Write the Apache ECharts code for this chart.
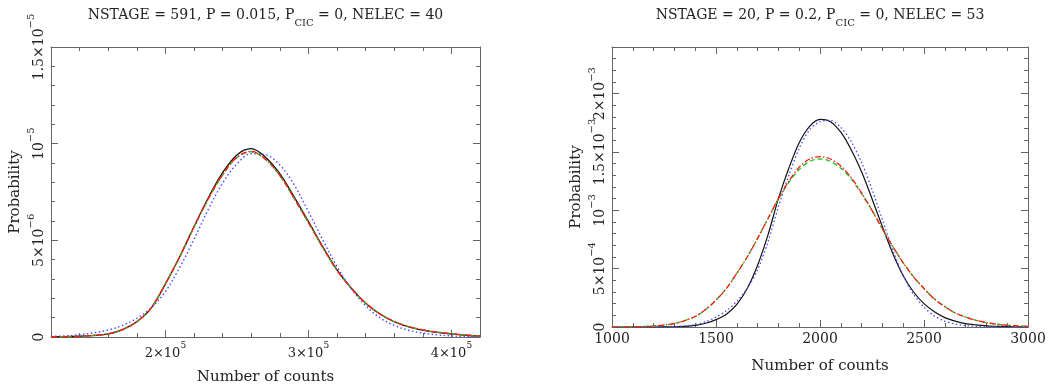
<!DOCTYPE html>
<html><head><meta charset="utf-8">
<script src="https://cdn.jsdelivr.net/npm/echarts@6/dist/echarts.min.js"></script>
<style>html,body{margin:0;padding:0;background:#fff}#c{width:1049px;height:392px}</style>
</head><body><div id="c"></div><script>
// ---------- data ----------
const leftTitle = 'NSTAGE = 591, P = 0.015, P_CIC = 0, NELEC = 40';
const rightTitle = 'NSTAGE = 20, P = 0.2, P_CIC = 0, NELEC = 53';
const xName = 'Number of counts';
const yName = 'Probability';

const leftXTicks = [200000, 300000, 400000];
const leftXLabels = ['2×10^5', '3×10^5', '4×10^5'];
const leftYTicks = [0, 5e-6, 1e-5, 1.5e-5];
const leftYLabels = ['0', '5×10^−6', '10^−5', '1.5×10^−5'];
const rightXTicks = [1000, 1500, 2000, 2500, 3000];
const rightXLabels = ['1000', '1500', '2000', '2500', '3000'];
const rightYTicks = [0, 5e-4, 1e-3, 1.5e-3, 2e-3];
const rightYLabels = ['0', '5×10^−4', '10^−3', '1.5×10^−3', '2×10^−3'];

// left panel: counts, probability in units of 1e-6
const leftX = [120000,130000,140000,150000,160000,170000,180000,190000,200000,210000,220000,
  230000,240000,250000,260000,270000,280000,290000,300000,310000,320000,330000,340000,350000,
  360000,370000,380000,390000,400000,410000,420000];
const leftBlack = [0.01,0.02,0.04,0.08,0.16,0.38,0.79,1.49,2.75,4.15,5.7,7.2,8.5,9.42,9.74,9.3,
  8.45,7.25,5.98,4.68,3.47,2.52,1.75,1.19,0.79,0.53,0.36,0.24,0.16,0.09,0.05];
const leftRed = [0.01,0.02,0.04,0.08,0.16,0.38,0.79,1.49,2.75,4.15,5.7,7.15,8.4,9.3,9.6,9.2,
  8.36,7.18,5.92,4.64,3.45,2.52,1.76,1.2,0.8,0.54,0.37,0.25,0.17,0.1,0.05];
const leftGreen = [0.01,0.02,0.04,0.08,0.16,0.38,0.79,1.49,2.75,4.15,5.68,7.13,8.38,9.28,9.58,9.18,
  8.35,7.17,5.92,4.64,3.45,2.52,1.76,1.2,0.8,0.54,0.37,0.25,0.17,0.1,0.05];
const leftBlue = [0.03,0.06,0.12,0.22,0.36,0.6,0.97,1.5,2.35,3.6,5.05,6.6,7.96,8.95,9.48,9.43,
  8.9,7.88,6.49,5.03,3.64,2.5,1.62,1.0,0.6,0.35,0.2,0.11,0.06,0.03,0.01];

// right panel: counts, probability in units of 1e-4
const rightX = [1000,1050,1100,1150,1200,1250,1300,1350,1400,1450,1500,1550,1600,1650,1700,1750,
  1800,1850,1900,1950,2000,2050,2100,2150,2200,2250,2300,2350,2400,2450,2500,2550,2600,2650,
  2700,2750,2800,2850,2900,2950,3000];
const rightBlack = [0,0,0,0,0,0.01,0.02,0.06,0.14,0.32,0.63,1.1,1.94,3.3,5.3,7.9,
  11.0,13.6,15.8,17.2,17.8,17.6,16.7,15.2,13.3,11.0,8.6,6.3,4.4,3.0,2.0,1.3,0.8,0.5,
  0.29,0.18,0.1,0.06,0.03,0.02,0.01];
const rightBlue = [0,0,0,0,0,0.01,0.03,0.09,0.2,0.45,0.85,1.4,2.2,3.3,4.9,7.3,
  10.3,13.0,15.3,16.9,17.6,17.7,17.1,15.9,14.1,11.8,9.2,6.6,4.4,2.8,1.7,0.95,0.5,0.25,
  0.12,0.06,0.03,0.02,0.01,0,0];
const rightRed = [0,0.01,0.02,0.04,0.08,0.16,0.3,0.55,0.9,1.5,2.3,3.3,4.6,6.0,7.6,9.3,
  11.0,12.5,13.7,14.4,14.6,14.4,13.8,12.8,11.5,10.0,8.4,6.9,5.5,4.3,3.3,2.4,1.75,1.2,
  0.85,0.57,0.38,0.24,0.15,0.09,0.06];
const rightGreen = [0,0.01,0.02,0.04,0.08,0.16,0.3,0.55,0.9,1.5,2.3,3.3,4.6,6.0,7.6,9.3,
  10.95,12.4,13.5,14.2,14.4,14.2,13.6,12.7,11.4,10.0,8.4,6.9,5.5,4.3,3.3,2.4,1.75,1.2,
  0.85,0.57,0.38,0.24,0.15,0.09,0.06];

// ---------- helpers ----------
function rich(s) {
  return s.replace(/([^\^_]+)|\^([^\s,]+)|_([A-Z]+)/g, (m, a, b, c) =>
    a ? '{b|' + a + '}' : b ? '{sup|' + b + '}' : '{sub|' + c + '}');
}
function labelFor(ticks, labels) {
  return v => {
    for (let i = 0; i < ticks.length; i++) {
      if (Math.abs(v - ticks[i]) <= Math.abs(ticks[1] - ticks[0]) * 1e-6) return rich(labels[i]);
    }
    return '';
  };
}
const FONT = 'DejaVu Serif';
const TXT = '#222';
const FRAME = '#666';
const labRich = {
  b: {fontFamily: FONT, fontSize: 14, color: TXT, lineHeight: 20, verticalAlign: 'bottom'},
  sup: {fontFamily: FONT, fontSize: 10, color: TXT, verticalAlign: 'top'}
};
const xLabRich = {
  b: {fontFamily: FONT, fontSize: 13, color: TXT, lineHeight: 19, verticalAlign: 'bottom'},
  sup: {fontFamily: FONT, fontSize: 9, color: TXT, verticalAlign: 'top'}
};
const titleRich = {
  b: {fontFamily: FONT, fontSize: 14, color: TXT, lineHeight: 20, verticalAlign: 'top'},
  sub: {fontFamily: FONT, fontSize: 10, color: TXT, verticalAlign: 'bottom'}
};
function pairs(xs, ys, scale) { return xs.map((x, i) => [x, ys[i] * scale]); }

const line = {show: true, onZero: false, lineStyle: {color: FRAME, width: 1}};
const noLine = {show: false, onZero: false};
function majorTick(len, custom) {
  const t = {show: true, inside: true, length: len, lineStyle: {color: FRAME, width: 1}};
  if (custom) t.customValues = custom;
  return t;
}
const minorTick = {show: true, splitNumber: 5, length: 4, lineStyle: {color: FRAME, width: 1}};
const nameStyle = {fontFamily: FONT, fontSize: 15, color: TXT};

const grids = [
  {left: 51, top: 47, width: 429, height: 290},
  {left: 612, top: 47, width: 416, height: 280}
];

const xAxis = [
  // left panel
  {gridIndex: 0, type: 'value', position: 'bottom', min: 120000, max: 420000,
   axisLine: line, axisTick: majorTick(7, leftXTicks), splitLine: {show: false},
   axisLabel: {customValues: leftXTicks, formatter: labelFor(leftXTicks, leftXLabels), rich: xLabRich, margin: 4},
   name: xName, nameLocation: 'middle', nameGap: 33, nameTextStyle: nameStyle},
  {gridIndex: 0, type: 'value', position: 'bottom', min: 120000, max: 420000, interval: 20000,
   axisLine: noLine, axisTick: majorTick(4), axisLabel: {show: false}, splitLine: {show: false}},
  {gridIndex: 0, type: 'value', position: 'top', min: 120000, max: 420000,
   axisLine: line, axisTick: majorTick(7, leftXTicks), axisLabel: {show: false}, splitLine: {show: false},
   name: rich(leftTitle), nameLocation: 'middle', nameGap: 19, nameTextStyle: {rich: titleRich}},
  {gridIndex: 0, type: 'value', position: 'top', min: 120000, max: 420000, interval: 20000,
   axisLine: noLine, axisTick: majorTick(4), axisLabel: {show: false}, splitLine: {show: false}},
  // right panel
  {gridIndex: 1, type: 'value', position: 'bottom', min: 1000, max: 3000, interval: 500,
   axisLine: line, axisTick: majorTick(7), minorTick: minorTick, splitLine: {show: false},
   axisLabel: {formatter: labelFor(rightXTicks, rightXLabels), rich: {b: {fontFamily: FONT, fontSize: 14, color: TXT}}, margin: 5},
   name: xName, nameLocation: 'middle', nameGap: 32, nameTextStyle: nameStyle},
  {gridIndex: 1, type: 'value', position: 'top', min: 1000, max: 3000, interval: 500,
   axisLine: line, axisTick: majorTick(7), minorTick: minorTick, axisLabel: {show: false}, splitLine: {show: false},
   name: rich(rightTitle), nameLocation: 'middle', nameGap: 19, nameTextStyle: {rich: titleRich}}
];

const yAxis = [
  // left panel
  {gridIndex: 0, type: 'value', position: 'left', min: 0, max: 1.5e-5, interval: 5e-6,
   axisLine: line, axisTick: majorTick(7), minorTick: minorTick, splitLine: {show: false},
   axisLabel: {formatter: labelFor(leftYTicks, leftYLabels), rich: labRich, rotate: 90, margin: 5},
   name: yName, nameLocation: 'middle', nameGap: 28, nameTextStyle: nameStyle},
  {gridIndex: 0, type: 'value', position: 'right', min: 0, max: 1.5e-5, interval: 5e-6,
   axisLine: line, axisTick: majorTick(7), minorTick: minorTick, axisLabel: {show: false}, splitLine: {show: false}},
  // right panel
  {gridIndex: 1, type: 'value', position: 'left', min: 0, max: 2.4e-3, interval: 5e-4,
   axisLine: line, axisTick: majorTick(7), splitLine: {show: false},
   axisLabel: {formatter: labelFor(rightYTicks, rightYLabels), rich: labRich, rotate: 90, margin: 5, showMaxLabel: false},
   name: yName, nameLocation: 'middle', nameGap: 28, nameTextStyle: nameStyle},
  {gridIndex: 1, type: 'value', position: 'left', min: 0, max: 2.4e-3, interval: 1e-4,
   axisLine: noLine, axisTick: majorTick(4), axisLabel: {show: false}, splitLine: {show: false}},
  {gridIndex: 1, type: 'value', position: 'right', min: 0, max: 2.4e-3, interval: 5e-4,
   axisLine: line, axisTick: majorTick(7), axisLabel: {show: false}, splitLine: {show: false}},
  {gridIndex: 1, type: 'value', position: 'right', min: 0, max: 2.4e-3, interval: 1e-4,
   axisLine: noLine, axisTick: majorTick(4), axisLabel: {show: false}, splitLine: {show: false}}
];

function ser(xi, yi, xs, ys, scale, color, type, width, smooth) {
  return {type: 'line', xAxisIndex: xi, yAxisIndex: yi, data: pairs(xs, ys, scale),
    smooth: smooth, showSymbol: false, symbol: 'none', silent: true,
    lineStyle: {color: color, type: type, width: width}};
}
const BLACK = '#111', BLUE = '#4646ff', RED = '#ff1a1a', GREEN = '#1ec81e';
const series = [
  ser(0, 0, leftX, leftBlack, 1e-6, BLACK, 'solid', 1.3, 0.35),
  ser(0, 0, leftX, leftBlue, 1e-6, BLUE, [1.5, 2.5], 1.4, 0.35),
  ser(0, 0, leftX, leftGreen, 1e-6, GREEN, [5, 3], 1.4, 0.35),
  ser(0, 0, leftX, leftRed, 1e-6, RED, [6, 2, 1.5, 2], 1.4, 0.35),
  ser(4, 2, rightX, rightBlack, 1e-4, BLACK, 'solid', 1.2, 0.3),
  ser(4, 2, rightX, rightBlue, 1e-4, BLUE, [1.5, 2.5], 1.3, 0.3),
  ser(4, 2, rightX, rightGreen, 1e-4, GREEN, [5, 3], 1.3, 0.3),
  ser(4, 2, rightX, rightRed, 1e-4, RED, [6, 2, 1.5, 2], 1.3, 0.3)
];

const chart = echarts.init(document.getElementById('c'), null, {renderer: 'canvas'});
chart.setOption({
  animation: false,
  backgroundColor: '#fff',
  grid: grids,
  xAxis: xAxis,
  yAxis: yAxis,
  series: series
});
</script></body></html>
